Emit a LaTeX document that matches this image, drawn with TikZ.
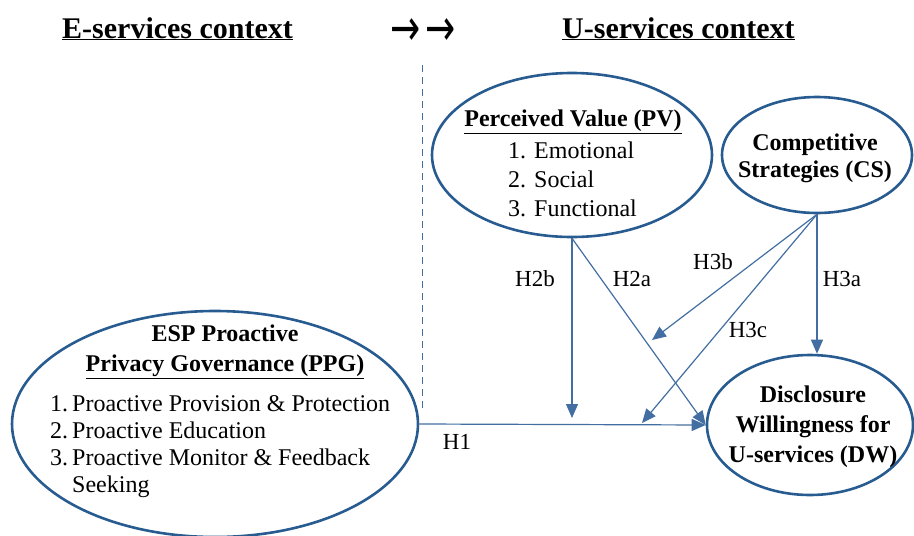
\documentclass[tikz,border=0pt]{standalone}
\usepackage{fontspec}
\setmainfont{Liberation Serif}
\newfontfamily\arrowfont{DejaVu Sans}
\usetikzlibrary{shapes.geometric,arrows.meta}
\definecolor{ringblue}{RGB}{40,92,145}
\definecolor{linkblue}{RGB}{66,110,162}
\tikzset{
  construct/.style={ellipse, draw=ringblue, line width=2.6pt, inner sep=0pt},
  link/.style={draw=linkblue, line width=1.2pt, -{Triangle[length=14pt,width=12pt]}},
  hyp/.style={font=\fontsize{23}{26}\selectfont},
  heading/.style={font=\fontsize{30}{34}\selectfont\bfseries, inner sep=0pt},
  boldtxt/.style={font=\fontsize{24}{30}\selectfont\bfseries, align=center, inner sep=0pt},
  plaintxt/.style={font=\fontsize{24}{29}\selectfont, align=left, inner sep=0pt}
}

\begin{document}
\begin{tikzpicture}[x=1pt, y=-1pt]
\useasboundingbox (0,0) rectangle (914,536);
% headings
\node[heading, anchor=base west] (etitle) at (62,38) {\underline{E-services context}};
\node[inner sep=0pt, font=\arrowfont\fontsize{30}{34}\selectfont] (shift) at (423,32)
  {\scalebox{1.2}[1.7]{→}\hspace{5pt}\scalebox{1.2}[1.7]{→}};
\node[heading, anchor=base west] (utitle) at (562,38) {\underline{U-services context}};
% boundary
\coordinate (dtop) at (422,65);
\coordinate (dbot) at (422,410);
\draw[linkblue, line width=0.9pt, dash pattern=on 7pt off 5pt] (dtop) -- (dbot);
% constructs
\node[construct, minimum width=280pt, minimum height=164pt] (pv) at (572,155) {};
\node[construct, minimum width=190pt, minimum height=116pt] (cs) at (817,155) {};
\node[construct, minimum width=206pt, minimum height=140pt] (dw) at (810,425) {};
\node[construct, minimum width=406pt, minimum height=226pt] (ppg) at (215,424) {};
%Text
\node[boldtxt] (pvhead) at (573,122) {\underline{Perceived Value (PV)}};
\node[plaintxt, anchor=west] (pvlist) at (508,179) {1. Emotional\\2. Social\\3. Functional};
\node[boldtxt, font=\fontsize{24}{27}\selectfont\bfseries] (cstxt) at (815,158) {Competitive\\Strategies (CS)};
\node[boldtxt] (dwtxt) at (813,427) {Disclosure\\Willingness for\\U-services (DW)};
\node[boldtxt] (ppghead) at (225,352) {ESP Proactive\\\underline{Privacy Governance (PPG)}};
\node[plaintxt, font=\fontsize{24}{27}\selectfont, anchor=west] (ppglist) at (50,447)
  {1.\,Proactive Provision \& Protection\\2.\,Proactive Education\\3.\,Proactive Monitor \& Feedback\\\phantom{3.\,}Seeking};
% hypotheses
\coordinate (h2bend) at (572,418);
\coordinate (h3bend) at (652,340);
\coordinate (h3cend) at (642,423);
\draw[link] (ppg.east) -- (dw.west);
\draw[link] (pv.south) -- (h2bend);
\draw[link] (pv.south) -- (dw.west);
\draw[link] (cs.south) -- (cs.south |- dw.north);
\draw[link] (cs.south) -- (h3bend);
\draw[link] (cs.south) -- (h3cend);
\node[hyp] (l1) at (457,442) {H1};
\node[hyp] (l2b) at (535,279) {H2b};
\node[hyp] (l2a) at (632,279) {H2a};
\node[hyp] (l3b) at (713,262) {H3b};
\node[hyp] (l3a) at (842,279) {H3a};
\node[hyp] (l3c) at (748,330) {H3c};
\end{tikzpicture}
\end{document}
